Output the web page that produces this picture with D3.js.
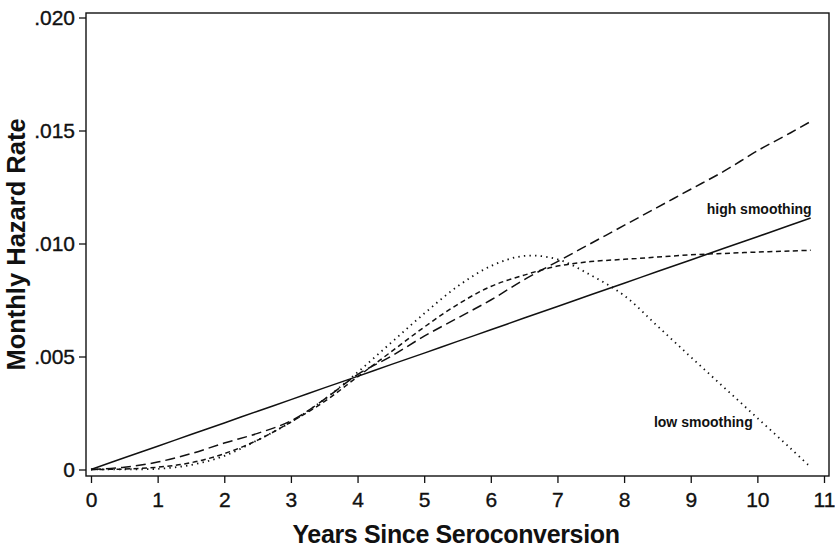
<!DOCTYPE html>
<html>
<head>
<meta charset="utf-8">
<script src="https://cdn.jsdelivr.net/npm/d3@7"></script>
<style>
  body { margin: 0; background: #fff; }
  text { font-family: "Liberation Sans", Arial, sans-serif; fill: #111; }
</style>
</head>
<body>
<svg id="main" width="835" height="555"></svg>
<script>
const width = 835;
const height = 555;

// years since seroconversion
const years = [0, 0.5, 1, 1.5, 2, 2.5, 3, 3.5, 4, 4.5, 5, 5.5, 6, 6.5, 7, 7.5, 8, 8.5, 9, 9.5, 10, 10.5, 10.8];

// high smoothing (solid)
const highSmooth = [0, 0.00052, 0.00103, 0.00155, 0.00206, 0.00258, 0.00309, 0.00361, 0.00412, 0.00464, 0.00515, 0.00567, 0.00618, 0.0067, 0.00721, 0.00773, 0.00824, 0.00876, 0.00927, 0.00979, 0.0103, 0.01082, 0.01113];
// long dash
const longDash = [0, 0.0001, 0.00033, 0.0007, 0.00117, 0.0016, 0.00215, 0.0031, 0.0042, 0.005, 0.0059, 0.0067, 0.0075, 0.0084, 0.0092, 0.0100, 0.0108, 0.0116, 0.0124, 0.0132, 0.0141, 0.0149, 0.0154];
// short dash
const shortDash = [0, 0.00002, 0.0001, 0.0003, 0.0007, 0.0013, 0.0021, 0.003, 0.0041, 0.0052, 0.0063, 0.0073, 0.0081, 0.0086, 0.009, 0.0092, 0.0093, 0.0094, 0.0095, 0.00956, 0.00962, 0.00967, 0.0097];
// low smoothing (dotted)
const lowSmooth = [0, 0.00001, 0.00003, 0.0002, 0.0006, 0.0013, 0.0021, 0.0031, 0.0043, 0.0056, 0.0069, 0.0081, 0.009, 0.00945, 0.0093, 0.0086, 0.0077, 0.00635, 0.00498, 0.00363, 0.00228, 0.00093, 0.0001];

const xTicks = [0, 1, 2, 3, 4, 5, 6, 7, 8, 9, 10, 11];
const yTicks = [0, 0.005, 0.010, 0.015, 0.020];
const yTickLabels = ['0', '.005', '.010', '.015', '.020'];

const series = [
  {values: highSmooth, dash: null, w: 1.5},
  {values: longDash, dash: '10,5', w: 1.5},
  {values: shortDash, dash: '5,3.5', w: 1.5},
  {values: lowSmooth, dash: '1.4,4.2', w: 1.8}
];

const svg = d3.select('#main');

const x = d3.scaleLinear().domain([0, 11]).range([91, 824]);
const y = d3.scaleLinear().domain([0, 0.02]).range([469.5, 17.5]);

const frame = {left: 86, right: 829, top: 13, bottom: 476};

// frame box
svg.append('rect')
  .attr('x', frame.left).attr('y', frame.top)
  .attr('width', frame.right - frame.left).attr('height', frame.bottom - frame.top)
  .attr('fill', 'none').attr('stroke', '#111').attr('stroke-width', 1.4);

// x axis
const xAxis = svg.append('g').attr('transform', `translate(0,${frame.bottom})`);
xAxis.call(d3.axisBottom(x).tickValues(d3.range(0, 11.01, 0.5)).tickSize(4).tickFormat(''));
xAxis.call(d3.axisBottom(x).tickValues(xTicks).tickSize(7).tickPadding(9).tickFormat(d3.format('d')));
xAxis.selectAll('.domain').remove();
xAxis.selectAll('line').attr('stroke', '#111').attr('stroke-width', 1.3);
xAxis.selectAll('text').attr('font-size', 21).style('fill', '#111')
  .attr('stroke', '#111').attr('stroke-width', 0.35);

// y axis
const yAxis = svg.append('g').attr('transform', `translate(${frame.left},0)`);
yAxis.call(d3.axisLeft(y).tickValues(d3.range(0, 0.02001, 0.0025)).tickSize(4).tickFormat(''));
yAxis.call(d3.axisLeft(y).tickValues(yTicks).tickSize(7).tickPadding(4)
  .tickFormat((d, i) => yTickLabels[i]));
yAxis.selectAll('.domain').remove();
yAxis.selectAll('line').attr('stroke', '#111').attr('stroke-width', 1.3);
yAxis.selectAll('text').attr('font-size', 21).style('fill', '#111')
  .attr('stroke', '#111').attr('stroke-width', 0.35);

// curves
const line = d3.line()
  .x((d, i) => x(years[i]))
  .y(d => y(d))
  .curve(d3.curveCatmullRom.alpha(0.5));

series.forEach(s => {
  svg.append('path')
    .datum(s.values)
    .attr('d', line)
    .attr('fill', 'none')
    .attr('stroke', '#111')
    .attr('stroke-width', s.w)
    .attr('stroke-dasharray', s.dash);
});

// labels
svg.append('text')
  .attr('x', x(10.8) + 1).attr('y', y(0.0113))
  .attr('text-anchor', 'end')
  .attr('font-size', 14).attr('font-weight', 'bold')
  .text('high smoothing');

svg.append('text')
  .attr('x', x(9.93)).attr('y', y(0.00188))
  .attr('text-anchor', 'end')
  .attr('font-size', 14).attr('font-weight', 'bold')
  .text('low smoothing');

// axis titles
svg.append('text')
  .attr('x', 456).attr('y', 543)
  .attr('text-anchor', 'middle')
  .attr('font-size', 25).attr('font-weight', 'bold')
  .attr('letter-spacing', -0.35)
  .text('Years Since Seroconversion');

svg.append('text')
  .attr('transform', `translate(25,${(frame.top + frame.bottom) / 2}) rotate(-90)`)
  .attr('text-anchor', 'middle')
  .attr('font-size', 25.5).attr('font-weight', 'bold')
  .text('Monthly Hazard Rate');
</script>
</body>
</html>
